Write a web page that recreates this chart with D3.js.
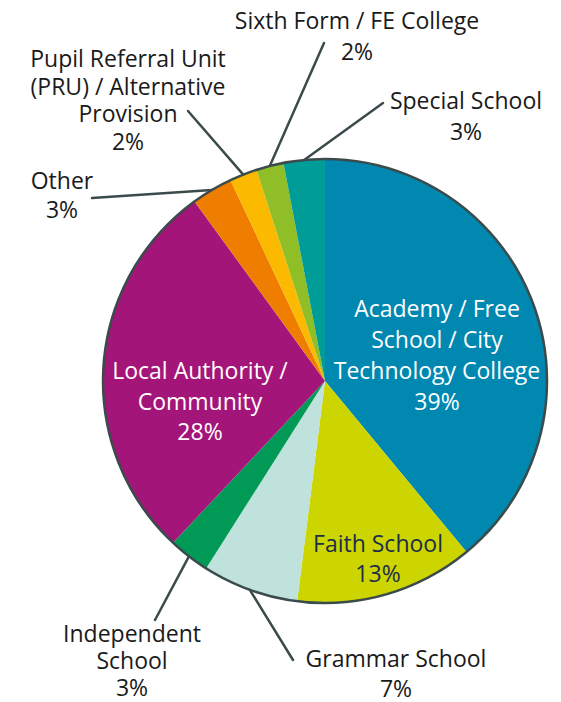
<!DOCTYPE html>
<html>
<head>
<meta charset="utf-8">
<script src="https://cdn.jsdelivr.net/npm/d3@7"></script>
<style>
  html, body { margin: 0; padding: 0; background: #ffffff; }
  svg { display: block; }
  text { font-family: "Open Sans", "Noto Sans", sans-serif; }
</style>
</head>
<body>
<svg id="chart" width="561" height="702"></svg>
<script>
// School types, clockwise from twelve o'clock
const categories = [
  "Academy / Free School / City Technology College",
  "Faith School",
  "Grammar School",
  "Independent School",
  "Local Authority / Community",
  "Other",
  "Pupil Referral Unit (PRU) / Alternative Provision",
  "Sixth Form / FE College",
  "Special School"
];
// Share of respondents, percent
const shares = [39, 13, 7, 3, 28, 3, 2, 2, 3];
// How each category name is broken over lines
const labelLines = [
  ["Academy / Free", "School / City", "Technology College"],
  ["Faith School"],
  ["Grammar School"],
  ["Independent", "School"],
  ["Local Authority /", "Community"],
  ["Other"],
  ["Pupil Referral Unit", "(PRU) / Alternative", "Provision"],
  ["Sixth Form / FE College"],
  ["Special School"]
];

const colours = ["#0088b1", "#cdd500", "#bfe2dc", "#009a56", "#a4157a",
                 "#ef7d00", "#fbba00", "#8fbe27", "#009d98"];

// Label placement: x centre, first baseline, line step, text colour, leader end (null = inside)
const labelLayout = [
  { x: 437, y: 317, step: 31,   fill: "#ffffff", end: null },
  { x: 378, y: 552, step: 30,   fill: "#1c2d4c", end: null },
  { x: 396, y: 667, step: 29.5, fill: "#1a1a1a", end: [293, 660] },
  { x: 132, y: 642, step: 27,   fill: "#1a1a1a", end: [155, 620] },
  { x: 200, y: 379, step: 30.5, fill: "#ffffff", end: null },
  { x: 62,  y: 189, step: 29,   fill: "#1a1a1a", end: [92, 198] },
  { x: 128, y: 67,  step: 27.7, fill: "#1a1a1a", end: [188, 111] },
  { x: 357, y: 29,  step: 31,   fill: "#1a1a1a", end: [324, 43] },
  { x: 466, y: 109, step: 31,   fill: "#1a1a1a", end: [383, 103] }
];

const cx = 325, cy = 381, radius = 222;
const outline = "#3b4b4c";

const svg = d3.select("#chart");
const g = svg.append("g").attr("transform", `translate(${cx},${cy})`);

const rows = categories.map((name, i) => ({ name, value: shares[i], i }));

const pie = d3.pie().value(d => d.value).sort(null);
const arcs = pie(rows);
const arc = d3.arc().innerRadius(0).outerRadius(radius);

// Slices
g.selectAll("path.slice")
  .data(arcs)
  .join("path")
  .attr("class", "slice")
  .attr("d", arc)
  .attr("fill", d => colours[d.data.i]);

// Outer rim
g.append("circle")
  .attr("r", radius)
  .attr("fill", "none")
  .attr("stroke", outline)
  .attr("stroke-width", 2.5);

// Leader lines from the rim at each slice's middle angle to its label
const rimPoint = d => {
  const a = (d.startAngle + d.endAngle) / 2;
  return [Math.sin(a) * radius, -Math.cos(a) * radius];
};

g.selectAll("line.leader")
  .data(arcs.filter(d => labelLayout[d.data.i].end))
  .join("line")
  .attr("class", "leader")
  .attr("x1", d => rimPoint(d)[0])
  .attr("y1", d => rimPoint(d)[1])
  .attr("x2", d => labelLayout[d.data.i].end[0] - cx)
  .attr("y2", d => labelLayout[d.data.i].end[1] - cy)
  .attr("stroke", outline)
  .attr("stroke-width", 2.5)
  .attr("stroke-linecap", "round");

// Labels: name lines followed by the percentage
const labels = svg.selectAll("text.label")
  .data(arcs)
  .join("text")
  .attr("class", "label")
  .attr("text-anchor", "middle")
  .attr("font-size", 23)
  .attr("fill", d => labelLayout[d.data.i].fill);

labels.each(function(d) {
  const L = labelLayout[d.data.i];
  const lines = labelLines[d.data.i].concat([`${d.data.value}%`]);
  d3.select(this).selectAll("tspan")
    .data(lines)
    .join("tspan")
    .attr("x", L.x)
    .attr("y", (t, k) => L.y + k * L.step)
    .text(t => t);
});
</script>
</body>
</html>
